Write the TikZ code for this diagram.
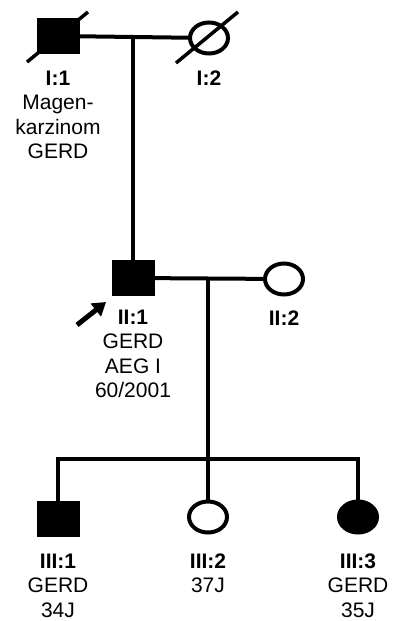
\documentclass[tikz,border=0pt]{standalone}
\usepackage{fontspec}
\setmainfont{Liberation Sans}
\usetikzlibrary{positioning, arrows.meta, shapes.geometric, calc}

\begin{document}
\begin{tikzpicture}[
        x=1pt, y=-1pt,
        line width=4pt,
        node distance=14pt,
        % Symbole
        male/.style={rectangle, draw, minimum width=39pt, minimum height=32pt, inner sep=0pt},
        female/.style={ellipse, draw, minimum width=38pt, minimum height=31pt, inner sep=0pt},
        affected/.style={fill=black},
        lbl/.style={align=center, inner sep=0pt, font=\fontsize{21}{24.5}\selectfont},
        % Linien
        deceased/.style={line width=3.5pt},
        proband/.style={-{Triangle[length=13pt, width=16pt]}, line width=5pt}
    ]
    \useasboundingbox (0,0) rectangle (394,621);

    % -- Generation I --
    \node[male, affected] (i1) at (58,36) {};
    \node[female] (i2) at (209,38) {};
    \coordinate (m1) at (133,37);

    \node[lbl, below=15pt of i1] (i1t) {\textbf{I:1}\\Magen-\\karzinom\\GERD};
    \node[lbl, below=13pt of i2] (i2t) {\textbf{I:2}};

    \draw[deceased] ($(i1)+(-31,26)$) -- ($(i1)+(30,-24)$);
    \draw[deceased] ($(i2)+(-33,25)$) -- ($(i2)+(29,-26)$);

    % -- Generation II --
    \node[male, affected] (ii1) at (133,278) {};
    \node[female] (ii2) at (284,279) {};
    \coordinate (m2) at (208,278);

    \node[lbl, below=12pt of ii1] (ii1t) {\textbf{II:1}\\GERD\\AEG I\\60/2001};
    \node[lbl, below=12pt of ii2] (ii2t) {\textbf{II:2}};

    \coordinate (pb) at (77,325);
    \coordinate (pa) at (106,302);
    \draw[proband] (pb) -- (pa);

    % -- Generation III --
    \node[male, affected] (iii1) at (58,519) {};
    \node[female] (iii2) at (208,517) {};
    \node[female, affected] (iii3) at (358,517) {};
    \coordinate (s1) at (58,459);
    \coordinate (s2) at (208,459);
    \coordinate (s3) at (358,459);

    \node[lbl, below=15pt of iii1] (iii1t) {\textbf{III:1}\\GERD\\34J};
    \node[lbl, below=17pt of iii2] (iii2t) {\textbf{III:2}\\37J};
    \node[lbl, below=17pt of iii3] (iii3t) {\textbf{III:3}\\GERD\\35J};

    % -- Verbindungen --
    \draw (i1) -- (i2);
    \draw (m1) -- (ii1);
    \draw (ii1) -- (ii2);
    \draw (m2) -- (s2);
    \draw (iii1) -- (s1) -- (s3) -- (iii3);
    \draw (s2) -- (iii2);

\end{tikzpicture}
\end{document}
